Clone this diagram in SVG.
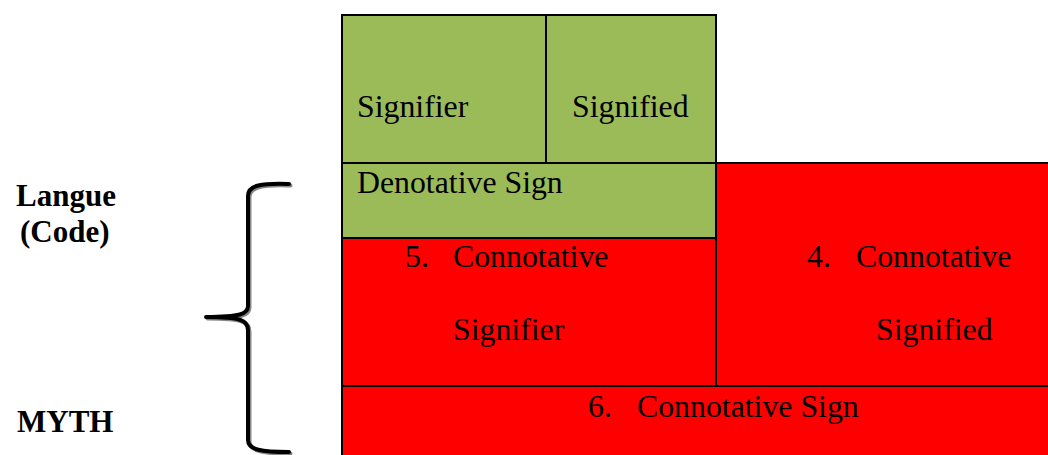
<svg xmlns="http://www.w3.org/2000/svg" width="1048" height="455" viewBox="0 0 1048 455">
<style>
.g{fill:#9BBB59;stroke:#000;stroke-width:2}
.r{fill:#FF0000;stroke:#000;stroke-width:2}
.t{font-family:"Liberation Serif","Times New Roman",serif;font-size:31.8px;fill:#000}
.b{font-family:"Liberation Serif","Times New Roman",serif;font-size:31px;font-weight:bold;fill:#000}
.brace{fill:none;stroke-width:4;stroke-linecap:round;stroke-linejoin:round}
</style>
<rect width="1048" height="455" fill="#fff"/>
<g id="signifier"><rect class="g" x="342" y="15" width="204" height="148"/><text class="t" x="357" y="117">Signifier</text></g>
<g id="signified"><rect class="g" x="546" y="15" width="170" height="148"/><text class="t" x="572" y="117">Signified</text></g>
<g id="denotative-sign"><rect class="g" x="342" y="163" width="374" height="75"/><text class="t" x="357" y="193">Denotative Sign</text></g>
<g id="connotative-signifier"><rect class="r" x="342" y="238" width="374" height="148"/><text class="t" x="405" y="267">5.</text><text class="t" x="453" y="267">Connotative</text><text class="t" x="453" y="340">Signifier</text></g>
<g id="connotative-signified"><rect class="r" x="716" y="163" width="340" height="223"/><text class="t" x="807" y="267">4.</text><text class="t" x="856" y="267">Connotative</text><text class="t" x="876" y="340">Signified</text></g>
<g id="connotative-sign"><rect class="r" x="342" y="386" width="714" height="80"/><text class="t" x="588" y="417">6.</text><text class="t" x="637" y="417">Connotative Sign</text></g>
<g id="labels"><text class="b" x="16" y="206">Langue</text><text class="b" x="20" y="242">(Code)</text><text class="b" x="17" y="432">MYTH</text></g>
<g id="connectors">
<path class="brace" stroke="#888" transform="translate(1.5,1.5)" d="M289,184 C262,183 248,185 248,196 L248,306 C248,314 240,317 206,317 C240,317 248,320 248,330 L248,440 C248,450 262,452 289,452"/>
<path class="brace" stroke="#000" d="M289,184 C262,183 248,185 248,196 L248,306 C248,314 240,317 206,317 C240,317 248,320 248,330 L248,440 C248,450 262,452 289,452"/>
</g>
</svg>
